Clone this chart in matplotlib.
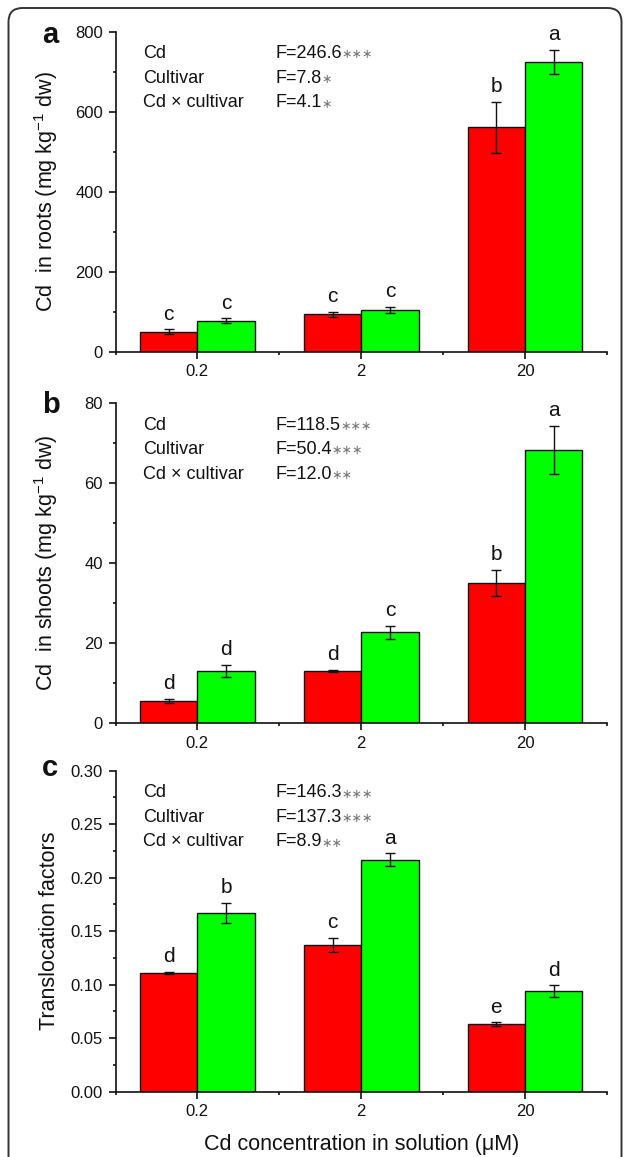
import matplotlib
matplotlib.use('Agg')
import matplotlib.pyplot as plt
from matplotlib.patches import FancyBboxPatch
from matplotlib.ticker import MultipleLocator, FixedLocator

plt.rcParams['font.family'] = ['Liberation Sans', 'DejaVu Sans']
plt.rcParams['mathtext.fontset'] = 'custom'
plt.rcParams['mathtext.rm'] = 'Liberation Sans'
plt.rcParams['mathtext.it'] = 'Liberation Sans:italic'

conc = ['0.2', '2', '20']

# a: Cd in roots
roots_red = [50, 93, 561]
roots_red_err = [6, 6, 64]
roots_green = [77, 104, 724]
roots_green_err = [6, 8, 30]
roots_let_red = ['c', 'c', 'b']
roots_let_green = ['c', 'c', 'a']
roots_stats = [('Cd', 'F=246.6', '∗∗∗'), ('Cultivar', 'F=7.8', '∗'),
               ('Cd × cultivar', 'F=4.1', '∗')]

# b: Cd in shoots
shoots_red = [5.6, 13.1, 35.1]
shoots_red_err = [0.5, 0.2, 3.2]
shoots_green = [13.1, 22.7, 68.3]
shoots_green_err = [1.5, 1.6, 6.0]
shoots_let_red = ['d', 'd', 'b']
shoots_let_green = ['d', 'c', 'a']
shoots_stats = [('Cd', 'F=118.5', '∗∗∗'), ('Cultivar', 'F=50.4', '∗∗∗'),
                ('Cd × cultivar', 'F=12.0', '∗∗')]

# c: translocation factors
tf_red = [0.111, 0.137, 0.063]
tf_red_err = [0.001, 0.0067, 0.002]
tf_green = [0.167, 0.217, 0.094]
tf_green_err = [0.0095, 0.006, 0.0056]
tf_let_red = ['d', 'c', 'e']
tf_let_green = ['b', 'a', 'd']
tf_stats = [('Cd', 'F=146.3', '∗∗∗'), ('Cultivar', 'F=137.3', '∗∗∗'),
            ('Cd × cultivar', 'F=8.9', '∗∗')]

W, H = 627, 1157
fig = plt.figure(figsize=(W / 100, H / 100), dpi=100)

# rounded frame around the figure
frame = FancyBboxPatch((8.5, -30), 613, H - 8 + 30,
                       boxstyle='round,pad=0,rounding_size=14',
                       transform=None, fill=False, ec='#333333', lw=1.4)
fig.patches.append(frame)

panels = [
    dict(top=31.5, bot=351.5, red=roots_red, rerr=roots_red_err,
         green=roots_green, gerr=roots_green_err, lr=roots_let_red,
         lg=roots_let_green, stats=roots_stats, ymax=800, major=200,
         minor=100, fmt='{:.0f}', letter='a', lbase=43,
         ylabel='Cd  in roots (mg kg$^{-1}$ dw)'),
    dict(top=403, bot=723.3, red=shoots_red, rerr=shoots_red_err,
         green=shoots_green, gerr=shoots_green_err, lr=shoots_let_red,
         lg=shoots_let_green, stats=shoots_stats, ymax=80, major=20,
         minor=10, fmt='{:.0f}', letter='b', lbase=413,
         ylabel='Cd  in shoots (mg kg$^{-1}$ dw)'),
    dict(top=770.7, bot=1091.7, red=tf_red, rerr=tf_red_err,
         green=tf_green, gerr=tf_green_err, lr=tf_let_red,
         lg=tf_let_green, stats=tf_stats, ymax=0.30, major=0.05,
         minor=0.025, fmt='{:.2f}', letter='c', lbase=776,
         ylabel='Translocation factors'),
]

left, right = 115.5, 607
x = list(range(len(conc)))
bw = 0.35
axes = []
for p in panels:
    ax = fig.add_axes([left / W, 1 - p['bot'] / H, (right - left) / W,
                       (p['bot'] - p['top']) / H])
    axes.append(ax)
    xr = [i - bw / 2 for i in x]
    xg = [i + bw / 2 for i in x]
    ax.bar(xr, p['red'], bw, color='#ff0000', edgecolor='#111111', lw=1, zorder=2)
    ax.bar(xg, p['green'], bw, color='#00ff00', edgecolor='#111111', lw=1, zorder=2)
    ax.errorbar(xr, p['red'], yerr=p['rerr'], fmt='none', ecolor='#111111',
                elinewidth=1, capsize=3.8, capthick=1, zorder=3)
    ax.errorbar(xg, p['green'], yerr=p['gerr'], fmt='none', ecolor='#111111',
                elinewidth=1, capsize=3.8, capthick=1, zorder=3)
    for xs, vals, errs, lets in ((xr, p['red'], p['rerr'], p['lr']),
                                 (xg, p['green'], p['gerr'], p['lg'])):
        for xi, v, e, t in zip(xs, vals, errs, lets):
            ax.annotate(t, (xi, v + e), xytext=(0, 4), textcoords='offset points',
                        ha='center', va='bottom', fontsize=15, color='#111111')

    ax.set_xlim(-0.5, 2.5)
    ax.set_ylim(0, p['ymax'])
    ax.set_xticks(x)
    ax.set_xticklabels(conc)
    ax.xaxis.set_minor_locator(FixedLocator([-0.5, 0.5, 1.5, 2.5]))
    ax.yaxis.set_major_locator(MultipleLocator(p['major']))
    ax.yaxis.set_minor_locator(MultipleLocator(p['minor']))
    ax.set_yticklabels([p['fmt'].format(v) for v in ax.get_yticks()])
    for s in ('top', 'right'):
        ax.spines[s].set_visible(False)
    for s in ('left', 'bottom'):
        ax.spines[s].set_linewidth(1.2)
        ax.spines[s].set_color('#111111')
    ax.tick_params(which='major', direction='out', length=5, width=1.2,
                   labelsize=12, pad=4, colors='#111111')
    ax.tick_params(which='minor', direction='out', length=2.5, width=1.2,
                   colors='#111111')
    ax.set_ylabel(p['ylabel'], fontsize=15.5, color='#111111')
    ax.yaxis.set_label_coords(-0.113, 0.5)

    # panel letter
    fig.text(42 / W, 1 - p['lbase'] / H, p['letter'], fontsize=21,
             fontweight='bold', va='baseline', color='#111111')

    # ANOVA statistics
    hgt = p['bot'] - p['top']
    for k, (name, fval, stars) in enumerate(p['stats']):
        yb = 1 - (26.5 + 24.6 * k) / hgt
        ax.text(0.056, yb, name, transform=ax.transAxes, fontsize=13,
                va='baseline', color='#111111')
        ft = ax.text(0.325, yb, fval, transform=ax.transAxes, fontsize=13,
                     va='baseline', color='#111111')
        ax.annotate(stars, xy=(1, 0.42), xycoords=ft, fontsize=9,
                    family=['DejaVu Sans'], color='#777777',
                    ha='left', va='center')

axes[-1].set_xlabel('Cd concentration in solution (μM)', fontsize=15.5,
                    color='#111111')
axes[-1].xaxis.set_label_coords(0.5, -0.132)

fig.savefig('out.png', dpi=100)
